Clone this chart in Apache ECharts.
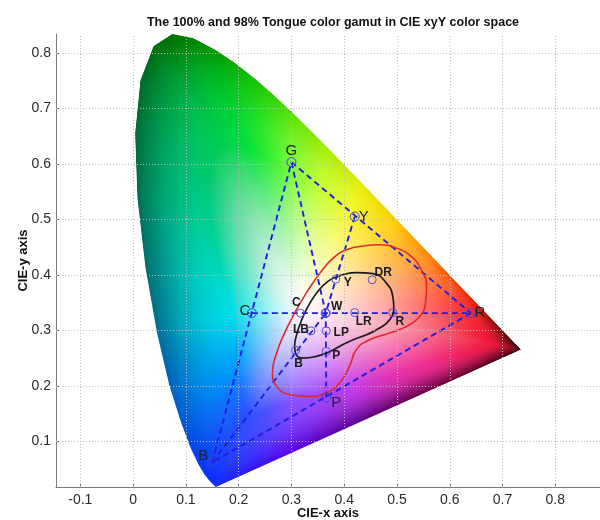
<!DOCTYPE html>
<html><head><meta charset="utf-8">
<script src="https://cdn.jsdelivr.net/npm/echarts@6/dist/echarts.min.js"></script>
<style>html,body{margin:0;padding:0;background:#fff}#c{width:600px;height:520px}</style>
</head><body><div id="c"></div>
<script>
// ---------------- data ----------------
// spectral locus outline (450 nm ... 700 nm), closed by the purple line
const locusX = [0.1566,0.1510,0.1440,0.1355,0.1241,0.1096,0.0913,0.0687,0.0454,0.0235,0.0082,0.0039,0.0139,0.0389,0.0743,0.1142,0.1547,0.1929,0.2296,0.2658,0.3016,0.3373,0.3731,0.4087,0.4441,0.4788,0.5125,0.5448,0.5752,0.6029,0.6270,0.6482,0.6658,0.6801,0.6915,0.7006,0.7079,0.7140,0.7190,0.7230,0.7260,0.7347];
const locusY = [0.0177,0.0227,0.0297,0.0399,0.0578,0.0868,0.1327,0.2007,0.2950,0.4127,0.5384,0.6548,0.7502,0.8120,0.8338,0.8262,0.8059,0.7816,0.7543,0.7243,0.6923,0.6589,0.6245,0.5896,0.5547,0.5202,0.4866,0.4544,0.4242,0.3965,0.3725,0.3514,0.3340,0.3197,0.3083,0.2993,0.2920,0.2859,0.2809,0.2770,0.2740,0.2653];

// outer (100%) reference points
const outerNames = ['G','Y','R','P','B','C','W'];
const outerX = [0.300,0.420,0.640,0.366,0.150,0.225,0.365];
const outerY = [0.603,0.505,0.331,0.179,0.062,0.331,0.331];

// dashed connections (by name)
const segments = [['G','R'],['R','B'],['B','G'],['G','W'],['Y','W'],['C','R'],['P','W'],['B','W']];

// inner (98%) reference points
const innerNames = ['Y','DR','C','W','LR','R','LB','LP','B','P'];
const innerX = [0.384,0.453,0.317,0.365,0.420,0.492,0.337,0.366,0.308,0.366];
const innerY = [0.392,0.391,0.331,0.331,0.332,0.332,0.299,0.299,0.264,0.262];

// black gamut contour
const blackX = [0.385,0.423,0.455,0.480,0.492,0.494,0.486,0.467,0.442,0.417,0.391,0.369,0.347,0.322,0.309,0.306,0.309,0.316,0.325,0.335,0.350,0.369,0.385];
const blackY = [0.396,0.404,0.402,0.385,0.361,0.340,0.319,0.304,0.292,0.283,0.271,0.260,0.253,0.250,0.256,0.271,0.289,0.310,0.331,0.349,0.370,0.388,0.396];

// red gamut contour
const redX = [0.436,0.467,0.499,0.527,0.546,0.556,0.554,0.543,0.518,0.486,0.448,0.423,0.410,0.391,0.366,0.335,0.297,0.272,0.264,0.272,0.287,0.306,0.328,0.354,0.379,0.404,0.436];
const redY = [0.452,0.454,0.448,0.433,0.409,0.379,0.349,0.325,0.307,0.295,0.283,0.265,0.235,0.205,0.187,0.181,0.184,0.199,0.223,0.259,0.295,0.331,0.367,0.403,0.430,0.445,0.452];

const xTicks = [-0.1,0,0.1,0.2,0.3,0.4,0.5,0.6,0.7,0.8];
const yTicks = [0.1,0.2,0.3,0.4,0.5,0.6,0.7,0.8];

// ---------------- styles ----------------
const X_MIN = -0.1461, X_MAX = 0.8847, Y_MIN = 0.0177, Y_MAX = 0.8338;
const FONT = 'Liberation Sans, Arial, sans-serif';
const BLUE = '#1e1ee0';
const FILL_CENTER = [0.32, 0.34];
const WHITE = [255, 252, 252];
// colour anchors around the white centre: [angle deg, mid colour, edge colour, mid position]
const colorAnchors = [
  [-119, [40,80,255],  [10,45,255], 0.60],
  [-97,  [130,80,255], [85,0,235],  0.65],
  [-58,  [195,60,240], [90,0,125],  0.72],
  [-22,  [242,45,140], [105,0,45],  0.80],
  [-9,   [240,25,55],  [55,0,8],    0.86],
  [1,    [255,55,50],  [225,20,0],  0.90],
  [8,    [255,105,60], [250,60,0],  0.88],
  [21,   [255,165,60], [255,125,0], 0.85],
  [41,   [255,215,50], [255,200,0], 0.80],
  [63,   [245,248,50], [225,235,0], 0.76],
  [82,   [195,255,60], [160,235,0], 0.70],
  [94,   [130,250,60], [80,222,0],  0.68],
  [103,  [50,238,50],  [15,190,0],  0.64],
  [110,  [0,222,60],   [0,150,0],   0.62],
  [117,  [0,205,80],   [0,110,0],   0.60],
  [127,  [0,200,110],  [0,105,40],  0.58],
  [147,  [0,212,165],  [0,112,80],  0.52],
  [165,  [0,220,205],  [0,110,110], 0.48],
  [187,  [0,222,235],  [0,110,140], 0.46],
  [220,  [0,155,250],  [0,90,210],  0.52],
  [241,  [40,80,255],  [10,45,255], 0.60]
];
const outerLabelOffset = {G:[0,-11],Y:[9,0],R:[9,0],P:[10,5],B:[-9,-7],C:[-7,-2],W:null};
const innerLabelOffset = {Y:[12,3],DR:[11,-7],C:[-4,-10],W:[11,-6],LR:[9,9],R:[7,9],LB:[-10,-1],LP:[15,2],B:[3,13],P:[10,4]};

// ---------------- colour fill builder ----------------
let fillCache = null;
function lerp(a,b,t){return a+(b-a)*t;}
function buildFill(W,H){
  const cv=document.createElement('canvas'); cv.width=W; cv.height=H;
  const ctx=cv.getContext('2d'); const img=ctx.createImageData(W,H); const d=img.data;
  const cx=FILL_CENTER[0], cy=FILL_CENTER[1];
  const N=2880, Rtab=new Float32Array(N), n=locusX.length;
  for(let k=0;k<N;k++){
    const a=k/N*2*Math.PI, ux=Math.cos(a), uy=Math.sin(a); let best=1e9;
    for(let i=0;i<n;i++){
      const j=(i+1)%n;
      const ax=locusX[i]-cx, ay=locusY[i]-cy, ex=locusX[j]-locusX[i], ey=locusY[j]-locusY[i];
      const den=ux*ey-uy*ex; if(Math.abs(den)<1e-12) continue;
      const s=(ax*ey-ex*ay)/den, v=(uy*ax-ux*ay)/den;
      if(s>0&&v>=-1e-9&&v<=1+1e-9&&s<best) best=s;
    }
    Rtab[k]=best;
  }
  const sx=(X_MAX-X_MIN)/W, sy=(Y_MAX-Y_MIN)/H, pxScale=W/(X_MAX-X_MIN);
  for(let j=0;j<H;j++){
    const y=Y_MAX-(j+0.5)*sy;
    for(let i=0;i<W;i++){
      const x=X_MIN+(i+0.5)*sx;
      const dx=x-cx, dy=y-cy, r=Math.sqrt(dx*dx+dy*dy);
      let a=Math.atan2(dy,dx); let kf=a/(2*Math.PI)*N; if(kf<0) kf+=N;
      const k0=Math.floor(kf)%N, k1=(k0+1)%N, fr=kf-Math.floor(kf);
      const R=Rtab[k0]*(1-fr)+Rtab[k1]*fr;
      let alpha=(R-r)*pxScale+0.5; if(alpha<=0) continue; if(alpha>1) alpha=1;
      const t=Math.min(r/R,1);
      let deg=a*180/Math.PI; if(deg<-119) deg+=360;
      let m=0; while(m<colorAnchors.length-2 && colorAnchors[m+1][0]<deg) m++;
      const A=colorAnchors[m], B=colorAnchors[m+1];
      const f=Math.max(0,Math.min(1,(deg-A[0])/(B[0]-A[0])));
      const tm=lerp(A[3],B[3],f);
      const out=[0,0,0];
      for(let c=0;c<3;c++){
        const mid=lerp(A[1][c],B[1][c],f), edge=lerp(A[2][c],B[2][c],f);
        if(t<tm){ out[c]=lerp(WHITE[c],mid,Math.pow(t/tm,1.3)); }
        else { out[c]=lerp(mid,edge,Math.pow((t-tm)/(1-tm),1.8)); }
      }
      const p=(j*W+i)*4; d[p]=out[0]; d[p+1]=out[1]; d[p+2]=out[2]; d[p+3]=Math.round(alpha*255);
    }
  }
  ctx.putImageData(img,0,0);
  return {canvas:cv,w:W,h:H};
}

// ---------------- chart ----------------
const ptIndex = {}; outerNames.forEach((nm,i)=>ptIndex[nm]=[outerX[i],outerY[i]]);
const zip = (xs,ys)=>xs.map((v,i)=>[v,ys[i]]);

const gridLines = xTicks.map(v=>({xAxis:v})).concat(yTicks.map(v=>({yAxis:v})));

const series = [];
series.push({
  type:'line', data:[[0,0.5]], symbol:'none', lineStyle:{width:0}, z:1, silent:true,
  markLine:{silent:true, symbol:'none', label:{show:false}, animation:false,
    lineStyle:{color:'#bdbdbd', type:[1,2], width:1}, data:gridLines}
});
series.push({
  type:'custom', z:2, silent:true, clip:true, data:[[0.3,0.4]],
  renderItem:function(params,api){
    const p0=api.coord([X_MIN,Y_MAX]), p1=api.coord([X_MAX,Y_MIN]);
    const W=Math.round(p1[0]-p0[0]), H=Math.round(p1[1]-p0[1]);
    if(!fillCache||fillCache.w!==W||fillCache.h!==H) fillCache=buildFill(W,H);
    return {type:'image', silent:true, style:{image:fillCache.canvas, x:p0[0], y:p0[1], width:W, height:H}};
  }
});
segments.forEach(s=>{
  series.push({type:'line', data:[ptIndex[s[0]],ptIndex[s[1]]], symbol:'none', z:3, silent:true,
    lineStyle:{color:BLUE, width:1.9, type:[6,4]}});
});
series.push({type:'line', data:zip(redX,redY), smooth:0.5, symbol:'none', z:4, silent:true,
  lineStyle:{color:'#e0282a', width:1.6}});
series.push({type:'line', data:zip(blackX,blackY), smooth:0.5, symbol:'none', z:4, silent:true,
  lineStyle:{color:'#1a1a1a', width:1.7}});
series.push({type:'scatter', z:5, silent:true, symbol:'circle', symbolSize:9,
  itemStyle:{color:'rgba(0,0,0,0)', borderColor:'#4040d8', borderWidth:1, opacity:1},
  data: outerNames.map((nm,i)=>({value:[outerX[i],outerY[i]], name:nm,
    label: outerLabelOffset[nm] ? {show:true, position:'inside', offset:outerLabelOffset[nm], formatter:nm,
      fontFamily:FONT, fontSize:15, color:'#222'} : {show:false}}))
});
series.push({type:'scatter', z:5, silent:true, symbol:'circle', symbolSize:8,
  itemStyle:{color:'rgba(0,0,0,0)', borderColor:'#5050dd', borderWidth:1, opacity:1},
  data: innerNames.map((nm,i)=>({value:[innerX[i],innerY[i]], name:nm,
    label:{show:true, position:'inside', offset:innerLabelOffset[nm], formatter:nm,
      fontFamily:FONT, fontSize:12, fontWeight:'bold', color:'#1a1a1a'}}))
});

const axisCommon = {
  type:'value', splitLine:{show:false}, nameMoveOverlap:false,
  axisLine:{show:true, onZero:false, lineStyle:{color:'#7a7a7a', width:1}},
  axisTick:{show:true, inside:true, length:4, lineStyle:{color:'#7a7a7a'}},
  nameTextStyle:{fontFamily:FONT, fontSize:13, fontWeight:'bold', color:'#111'}
};
const chart = echarts.init(document.getElementById('c'), null, {renderer:'canvas'});
chart.setOption({
  animation:false,
  backgroundColor:'#fff',
  title:{text:'The 100% and 98% Tongue color gamut in CIE xyY color space', left:328, top:11, textAlign:'center',
    textStyle:{fontFamily:FONT, fontSize:12.5, fontWeight:'bold', color:'#111'}},
  grid:{left:56, right:0, top:34, bottom:33, outerBoundsMode:'none', containLabel:false},
  xAxis:Object.assign({}, axisCommon, {min:X_MIN, max:X_MAX, name:'CIE-x axis', nameLocation:'middle', nameGap:20,
    axisTick:Object.assign({}, axisCommon.axisTick, {customValues:xTicks}),
    axisLabel:{customValues:xTicks, margin:6, fontFamily:FONT, fontSize:14, color:'#2a2a2a',
      formatter:v=>String(Math.round(v*10)/10)}}),
  yAxis:Object.assign({}, axisCommon, {min:Y_MIN, max:Y_MAX, name:'CIE-y axis', nameLocation:'middle', nameGap:26,
    axisTick:Object.assign({}, axisCommon.axisTick, {customValues:yTicks}),
    axisLabel:{customValues:yTicks, margin:5, fontFamily:FONT, fontSize:14, color:'#2a2a2a',
      formatter:v=>String(Math.round(v*10)/10)}}),
  series:series
});
</script></body></html>
